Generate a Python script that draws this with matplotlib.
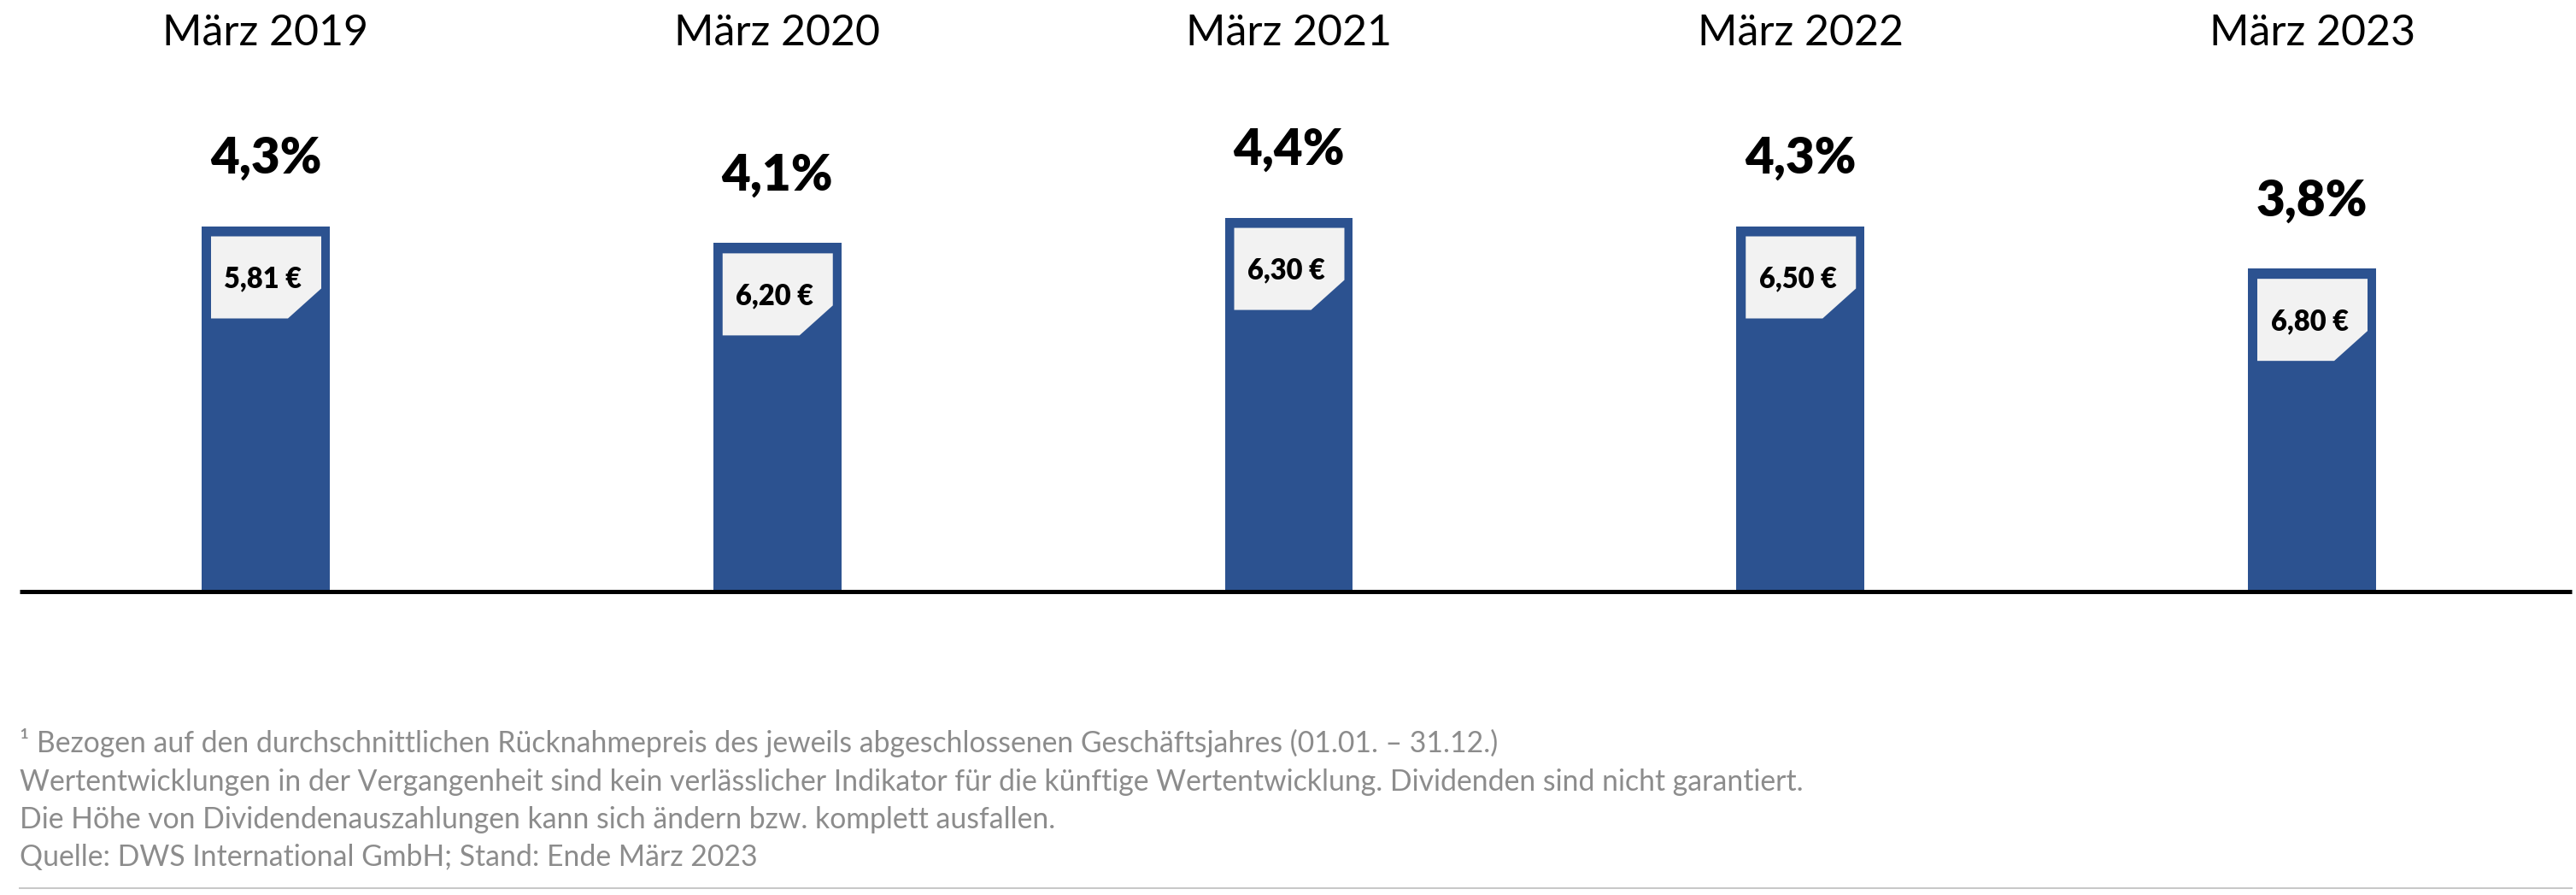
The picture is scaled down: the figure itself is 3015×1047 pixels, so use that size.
import matplotlib
matplotlib.use("Agg")
import matplotlib.pyplot as plt
from matplotlib.patches import Polygon
from matplotlib import transforms
import numpy as np

# ---- data ----
categories = ["März 2019", "März 2020", "März 2021", "März 2022", "März 2023"]
yield_pct = [4.3, 4.1, 4.4, 4.3, 3.8]
yield_labels = ["4,3%", "4,1%", "4,4%", "4,3%", "3,8%"]
dividend_labels = ["5,81 €", "6,20 €", "6,30 €", "6,50 €", "6,80 €"]
footnotes = [
    "¹ Bezogen auf den durchschnittlichen Rücknahmepreis des jeweils abgeschlossenen Geschäftsjahres (01.01. – 31.12.)",
    "Wertentwicklungen in der Vergangenheit sind kein verlässlicher Indikator für die künftige Wertentwicklung. Dividenden sind nicht garantiert.",
    "Die Höhe von Dividendenauszahlungen kann sich ändern bzw. komplett ausfallen.",
    "Quelle: DWS International GmbH; Stand: Ende März 2023",
]

W, H, DPI = 3015, 1047, 100
FONT = ["Lato", "DejaVu Sans"]
BAR_COLOR = "#2C5290"
BOX_COLOR = "#F2F2F2"
GRAY = "#8C8C8C"

fig = plt.figure(figsize=(W / DPI, H / DPI), dpi=DPI)
fig.patch.set_facecolor("white")

axis_y_px = 691.5  # from top
ax = fig.add_axes([23 / W, (H - axis_y_px) / H, 2987 / W, axis_y_px / H])
px_per_x = 598.75
px_per_y = 99.3
x = np.arange(len(categories))
ax.set_xlim(-(311 - 23) / px_per_x, -(311 - 23) / px_per_x + 2987 / px_per_x)
ax.set_ylim(0, axis_y_px / px_per_y)
ax.axis("off")
ax.patch.set_alpha(0)

bar_w = 150 / px_per_x
ax.bar(x, yield_pct, width=bar_w, color=BAR_COLOR, zorder=2)

# axis line
ax.plot([0, 1], [0, 0], transform=ax.transAxes, color="black", lw=5 * 72 / DPI,
        solid_capstyle="butt", zorder=5, clip_on=False)

dx = 1 / px_per_x
dy = 1 / px_per_y
trans = transforms.blended_transform_factory(ax.transData, fig.transFigure)
for xi, v, yl, dl, cat in zip(x, yield_pct, yield_labels, dividend_labels, categories):
    # value box with cut corner
    left = xi - bar_w / 2 + 11 * dx
    right = xi + bar_w / 2 - 10 * dx
    top = v - 12 * dy
    bottom = top - 96 * dy
    poly = Polygon([(left, top), (right, top), (right, bottom + 35 * dy),
                    (right - 39 * dx, bottom), (left, bottom)],
                   closed=True, facecolor=BOX_COLOR, edgecolor="none", zorder=3)
    ax.add_patch(poly)
    ax.text(xi - 3 * dx, v - 72 * dy, dl, ha="center", va="baseline",
            fontsize=23.5, fontweight="heavy", family=FONT, color="black", zorder=4)
    # percentage label
    ax.text(xi, v + 62 * dy, yl, ha="center", va="baseline",
            fontsize=42, fontweight="heavy", family=FONT, color="black")
    # header
    ax.text(xi, 1 - 53 / H, cat, transform=trans, ha="center", va="baseline",
            fontsize=36, family=FONT, color="black")

# footnotes
base = [880, 925, 969, 1013]
for line, b in zip(footnotes, base):
    fig.text(23 / W, 1 - b / H, line, ha="left", va="baseline",
             fontsize=24.3, family=FONT, color=GRAY)

# bottom rule
fig.add_artist(plt.Line2D([23 / W, 3010 / W], [1 - 1039 / H, 1 - 1039 / H],
                          transform=fig.transFigure, color="#C8C8C8", lw=2 * 72 / DPI))

fig.savefig("out.png", dpi=DPI, facecolor="white")
